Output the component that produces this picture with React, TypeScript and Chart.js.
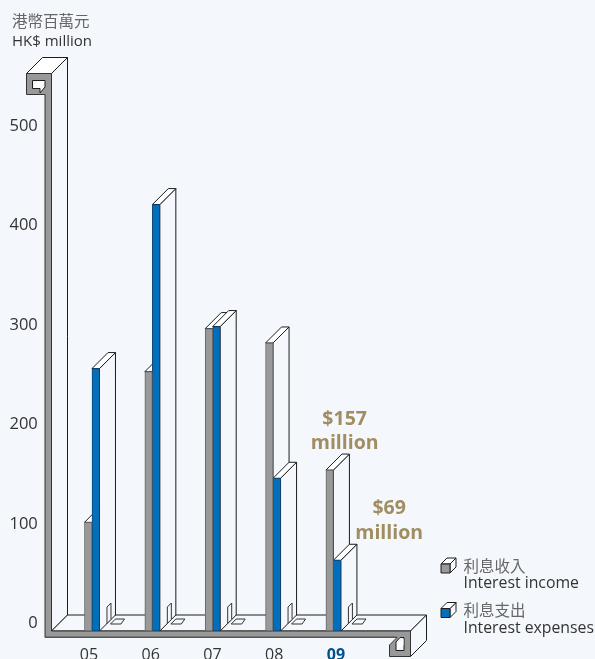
import React, { useEffect, useRef } from "react";
import { Chart, registerables } from "chart.js";

Chart.register(...registerables);

const CATEGORIES = ["05", "06", "07", "08", "09"];
const INCOME = [106, 253, 295, 281, 157];
const EXPENSES = [256, 416, 297, 149, 69];
const TICK_VALUES = [0, 100, 200, 300, 400, 500];
const SERIES_EN = ["Interest income", "Interest expenses"];
const SERIES_ZH = ["利息收入", "利息支出"];
const UNIT_LINES = ["港幣百萬元", "HK$ million"];
const CALLOUT_UNIT = "million";

const PAGE_BG = "#f4f8fc";
const INK = "#1c1c1c";
const GREY = "#999999";
const BLUE = "#0070bc";
const TAN = "#a08d62";
const TEXT = "#333333";
const TEXT_ZH = "#666666";
const LATIN = '"Open Sans", sans-serif';
const CJK = '"Noto Sans CJK TC", sans-serif';
const DEPTH = 16;
const PLOT_TOP = 34;
const PLOT_BOTTOM = 631;

type Pt = [number, number];

function poly(ctx: CanvasRenderingContext2D, pts: Pt[], fill: string | null, stroke: string | null = INK) {
  ctx.beginPath();
  pts.forEach(([x, y], i) => (i ? ctx.lineTo(x, y) : ctx.moveTo(x, y)));
  ctx.closePath();
  if (fill) {
    ctx.fillStyle = fill;
    ctx.fill();
  }
  if (stroke) {
    ctx.strokeStyle = stroke;
    ctx.lineWidth = 1;
    ctx.stroke();
  }
}

// The folded ribbon that forms the y wall and the floor of the pseudo-3D chart.
function drawFrame(ctx: CanvasRenderingContext2D, floorY: number) {
  const railL = 45;
  const railR = 51.5;
  const wallTop = 73.5;
  const floorBack = floorY - DEPTH;
  const railEnd = 410.5;
  const railLow = floorY + 6.5;

  // side of the wall and the floor surface
  poly(ctx, [[railR, wallTop], [railR + DEPTH, wallTop - DEPTH], [railR + DEPTH, floorBack], [railR, floorY]], PAGE_BG);
  poly(ctx, [[railR, floorY], [railR + DEPTH, floorBack], [railEnd + DEPTH, floorBack], [railEnd, floorY]], PAGE_BG);
  poly(ctx, [[railEnd, floorY], [railEnd + DEPTH, floorBack], [railEnd + DEPTH, floorBack + 25.5], [railEnd, floorY + 25.5]], PAGE_BG);
  // cap at the top of the wall
  poly(ctx, [[26.5, wallTop], [railR, wallTop], [railR + DEPTH, wallTop - DEPTH], [26.5 + DEPTH, wallTop - DEPTH]], "#ffffff");

  // grey ribbon edge, wall plus floor plus both hooks
  poly(
    ctx,
    [
      [26.5, wallTop], [railR, wallTop], [railR, floorY], [railEnd, floorY], [railEnd, floorY + 25.5],
      [389.5, floorY + 25.5], [389.5, floorY + 14], [397, railLow], [railL, railLow], [railL, 94.5], [26.5, 94.5],
    ],
    GREY,
    "#333333"
  );
  ctx.fillStyle = "#555555";
  ctx.fillRect(railL, railLow - 1, railEnd - railL - 14, 1.5);

  // notch in the top hook
  poly(ctx, [[32.5, 80.5], [railL, 80.5], [railL, 87], [40, 93], [40, 88.5], [32.5, 88.5]], PAGE_BG);
  poly(ctx, [[37.5, 81], [44.5, 81], [39, 88], [33, 88]], "#ffffff", null);
  // notch in the floor hook
  poly(ctx, [[400, railLow], [404, railLow], [404, floorY + 19.5], [396, floorY + 19.5], [396, floorY + 11]], PAGE_BG);
  poly(ctx, [[397, floorY + 19], [397, floorY + 14], [403.5, floorY + 8], [403.5, floorY + 14]], "#ffffff", null);
}

// Top face, side face and the small foot that each ribbon bar casts on the floor.
function drawBarSolid(ctx: CanvasRenderingContext2D, el: any) {
  const l = el.x - el.width / 2;
  const r = el.x + el.width / 2;
  const top = el.y;
  const base = el.base;
  poly(ctx, [[r, top], [r + DEPTH, top - DEPTH], [r + DEPTH, base - DEPTH], [r, base]], PAGE_BG);
  poly(ctx, [[l, top], [r, top], [r + DEPTH, top - DEPTH], [l + DEPTH, top - DEPTH]], "#ffffff");
}

function drawFoot(ctx: CanvasRenderingContext2D, el: any) {
  const r = el.x + el.width / 2;
  const base = el.base;
  poly(ctx, [[r + 7.5, base - 24], [r + 11.5, base - 28], [r + 11.5, base - 11.5], [r + 7.5, base - 7.5]], PAGE_BG, "#333333");
  poly(ctx, [[r + 16, base - 12], [r + 25, base - 12], [r + 21.5, base - 7], [r + 11, base - 7]], PAGE_BG, "#333333");
}

function drawLegendKey(ctx: CanvasRenderingContext2D, x: number, y: number, color: string) {
  const s = 9;
  const d = 6;
  poly(ctx, [[x + s, y], [x + s + d, y - d], [x + s + d, y + s - d], [x + s, y + s]], PAGE_BG);
  poly(ctx, [[x, y], [x + s, y], [x + s + d, y - d], [x + d, y - d]], "#ffffff");
  poly(ctx, [[x, y], [x + s, y], [x + s, y + s], [x, y + s]], color);
}

const ribbonPlugin = {
  id: "ribbon",
  // pins the plot box so the floor line and the year labels land where the ribbon needs them
  afterLayout(chart: any) {
    const area = chart.chartArea;
    area.top = PLOT_TOP;
    area.bottom = PLOT_BOTTOM;
    area.height = PLOT_BOTTOM - PLOT_TOP;
    ["y", "yTicks"].forEach((id) => {
      const s = chart.scales[id];
      s.top = PLOT_TOP;
      s.bottom = PLOT_BOTTOM;
      s.height = PLOT_BOTTOM - PLOT_TOP;
      s.configure();
    });
    const xs = chart.scales.xLabels;
    xs.top = PLOT_BOTTOM;
    xs.bottom = chart.height;
    xs.height = chart.height - PLOT_BOTTOM;
  },
  beforeDatasetsDraw(chart: any) {
    const { ctx } = chart;
    const income = chart.getDatasetMeta(0).data;
    const expenses = chart.getDatasetMeta(1).data;
    ctx.save();
    drawFrame(ctx, chart.scales.y.getPixelForValue(0));
    income.forEach((el: any, i: number) => {
      drawBarSolid(ctx, el);
      drawBarSolid(ctx, expenses[i]);
      drawFoot(ctx, expenses[i]);
    });
    ctx.restore();
  },
  afterDraw(chart: any) {
    const { ctx } = chart;
    const income = chart.getDatasetMeta(0).data;
    const expenses = chart.getDatasetMeta(1).data;
    const last = INCOME.length - 1;
    ctx.save();
    ctx.textBaseline = "middle";

    // unit heading
    ctx.textAlign = "left";
    ctx.fillStyle = TEXT_ZH;
    ctx.font = `15.5px ${CJK}`;
    ctx.fillText(UNIT_LINES[0], 12, 21);
    ctx.fillStyle = TEXT;
    ctx.font = `15px ${LATIN}`;
    ctx.fillText(UNIT_LINES[1], 12, 41.5);

    // value callouts for the latest year
    ctx.textAlign = "center";
    ctx.fillStyle = TAN;
    ctx.font = `bold 19.5px ${LATIN}`;
    const a = income[last];
    const b = expenses[last];
    ctx.fillText(`$${INCOME[last]}`, a.x + 15, a.y - 51);
    ctx.fillText(CALLOUT_UNIT, a.x + 15, a.y - 27);
    ctx.fillText(`$${EXPENSES[last]}`, b.x + 52, b.y - 52);
    ctx.fillText(CALLOUT_UNIT, b.x + 52, b.y - 27);

    // legend
    const keyColors = [GREY, BLUE];
    SERIES_EN.forEach((label, i) => {
      const y = 566 + i * 44.5;
      drawLegendKey(ctx, 441, y - 2, keyColors[i]);
      ctx.textAlign = "left";
      ctx.fillStyle = TEXT_ZH;
      ctx.font = `15.5px ${CJK}`;
      ctx.fillText(SERIES_ZH[i], 463.5, y);
      ctx.fillStyle = TEXT;
      ctx.font = `15.8px ${LATIN}`;
      ctx.fillText(label, 463.5, y + 17.5);
    });
    ctx.restore();
  },
};

export default function App() {
  const ref = useRef<HTMLCanvasElement>(null);

  useEffect(() => {
    if (!ref.current) return;
    const chart = new Chart(ref.current, {
      type: "bar",
      data: {
        labels: CATEGORIES,
        datasets: [
          { label: SERIES_EN[0], data: INCOME, backgroundColor: GREY, borderColor: "#666666", borderWidth: 1, borderSkipped: false, barThickness: 7.5, xAxisID: "x", yAxisID: "y" },
          { label: SERIES_EN[1], data: EXPENSES, backgroundColor: BLUE, borderColor: "#0f4a78", borderWidth: 1, borderSkipped: false, barThickness: 7.5, xAxisID: "x", yAxisID: "y" },
        ],
      },
      options: {
        responsive: false,
        animation: false,
        devicePixelRatio: 1,
        layout: { padding: { top: PLOT_TOP, right: 231.4, bottom: 0, left: 0 } },
        plugins: { legend: { display: false }, tooltip: { enabled: false }, title: { display: false } },
        scales: {
          x: { type: "category", display: false },
          // year labels sit on their own axis, slightly fanned out from the bars
          xLabels: {
            type: "linear",
            position: "bottom",
            axis: "x",
            offset: false,
            min: -0.44,
            max: 4.447,
            grid: { display: false, drawTicks: false },
            border: { display: false },
            afterBuildTicks: (s: any) => {
              s.ticks = CATEGORIES.map((_, i) => ({ value: i }));
            },
            afterFit: (s: any) => {
              s.height = 28;
            },
            ticks: {
              autoSkip: false,
              maxRotation: 0,
              padding: 15,
              callback: (v: any) => CATEGORIES[v],
              color: (c: any) => (c.index === CATEGORIES.length - 1 ? "#00508c" : TEXT),
              font: (c: any) =>
                c.index === CATEGORIES.length - 1
                  ? { family: LATIN, size: 16, weight: "bold" }
                  : { family: LATIN, size: 16 },
            },
          },
          y: { type: "linear", display: false, min: 0, max: 582.4 },
          // tick labels read against the back wall, one depth step above the front edge
          yTicks: {
            type: "linear",
            position: "left",
            axis: "y",
            min: -7.5,
            max: 592.5,
            grid: { display: false, drawTicks: false },
            border: { display: false },
            afterBuildTicks: (s: any) => {
              s.ticks = TICK_VALUES.map((value) => ({ value }));
            },
            afterFit: (s: any) => {
              s.width = 61.8;
            },
            ticks: { padding: 24, color: TEXT, font: { family: LATIN, size: 16.5 } },
          },
        },
      } as any,
      plugins: [ribbonPlugin],
    });
    return () => chart.destroy();
  }, []);

  return (
    <div style={{ position: "absolute", left: 0, top: 0, width: 595, height: 659, background: PAGE_BG, overflow: "hidden" }}>
      <canvas ref={ref} width={595} height={659} style={{ display: "block" }} />
    </div>
  );
}
